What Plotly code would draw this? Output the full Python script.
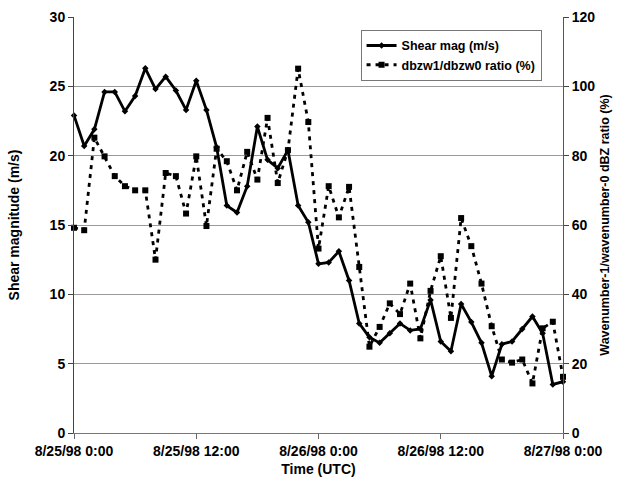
import plotly.graph_objects as go
import pandas as pd

start = "1998-08-25 00:00"
hours = pd.date_range(start, periods=49, freq="h")

shear_mag = [22.9, 20.7, 21.9, 24.6, 24.6, 23.2, 24.3, 26.3, 24.8, 25.7,
             24.7, 23.3, 25.4, 23.3, 20.6, 16.4, 15.9, 17.8, 22.1, 19.7,
             19.1, 20.4, 16.4, 15.2, 12.2, 12.3, 13.1, 11.0, 7.9, 6.9,
             6.5, 7.2, 7.9, 7.4, 7.5, 9.6, 6.6, 5.9, 9.3, 8.0,
             6.5, 4.1, 6.4, 6.6, 7.5, 8.4, 7.2, 3.5, 3.7]

ratio = [59.2, 58.5, 85.2, 79.8, 74.1, 71.2, 70.0, 70.0, 50.0, 75.0,
         74.1, 63.3, 79.8, 59.7, 82.0, 78.4, 70.0, 81.1, 73.1, 90.9,
         72.1, 81.6, 105.1, 89.7, 53.2, 71.2, 62.2, 71.0, 47.9, 24.9,
         30.6, 37.4, 34.3, 43.1, 27.3, 41.0, 51.0, 33.2, 62.0, 53.9,
         43.1, 30.8, 21.2, 20.3, 21.2, 14.3, 30.2, 32.1, 16.2]

tick_vals = ["1998-08-25 00:00", "1998-08-25 12:00", "1998-08-26 00:00",
             "1998-08-26 12:00", "1998-08-27 00:00"]
tick_text = ["8/25/98 0:00", "8/25/98 12:00", "8/26/98 0:00",
             "8/26/98 12:00", "8/27/98 0:00"]

FONT = "Liberation Sans, Arial, sans-serif"


def bfont(size):
    return dict(family=FONT, size=size, color="black", weight="bold")


fig = go.Figure()
fig.add_trace(go.Scatter(
    x=hours, y=shear_mag, name="Shear mag (m/s)", mode="lines+markers",
    line=dict(color="black", width=2.8),
    marker=dict(symbol="diamond", size=5, color="black"),
    cliponaxis=False, yaxis="y"))
fig.add_trace(go.Scatter(
    x=hours, y=ratio, name="dbzw1/dbzw0 ratio (%)", mode="lines+markers",
    line=dict(color="black", width=2.8, dash="4px,5px"),
    marker=dict(symbol="square", size=6, color="black"),
    cliponaxis=False, yaxis="y2"))

fig.update_layout(
    width=618, height=485,
    margin=dict(l=74, r=55, t=17, b=52),
    paper_bgcolor="white", plot_bgcolor="white",
    font=bfont(14),
    showlegend=True,
    legend=dict(x=0.586, y=0.969, xanchor="left", yanchor="top",
                bgcolor="white", bordercolor="#777", borderwidth=1,
                font=bfont(12.5), tracegroupgap=0, itemwidth=30),
    xaxis=dict(type="date", range=["1998-08-25 00:00", "1998-08-27 00:00"],
               tickvals=tick_vals, ticktext=tick_text,
               ticks="outside", ticklen=5, tickcolor="#666",
               showline=True, linecolor="#777", linewidth=1,
               showgrid=False, zeroline=False, automargin=False,
               title=dict(text="Time (UTC)", font=bfont(14), standoff=6),
               tickfont=bfont(14)),
    yaxis=dict(range=[0, 30], dtick=5, ticks="outside", ticklen=5,
               tickcolor="#444", showline=True, linecolor="#444",
               linewidth=1, showgrid=True, gridcolor="#9a9a9a",
               gridwidth=1, zeroline=False, automargin=False,
               title=dict(text="Shear magnitude (m/s)", font=bfont(14),
                          standoff=26),
               tickfont=bfont(14)),
    yaxis2=dict(range=[0, 120], dtick=20, overlaying="y", side="right",
                ticks="outside", ticklen=5, tickcolor="#444",
                showline=True, linecolor="#555", linewidth=1,
                showgrid=False, zeroline=False, automargin=False,
                title=dict(text="Wavenumber-1/wavenumber-0 dBZ ratio (%)",
                           font=bfont(12.5), standoff=5),
                tickfont=bfont(14)),
)

fig.write_html("out.html",
               config={"displayModeBar": False},
               post_script="document.body.style.margin='0';")
